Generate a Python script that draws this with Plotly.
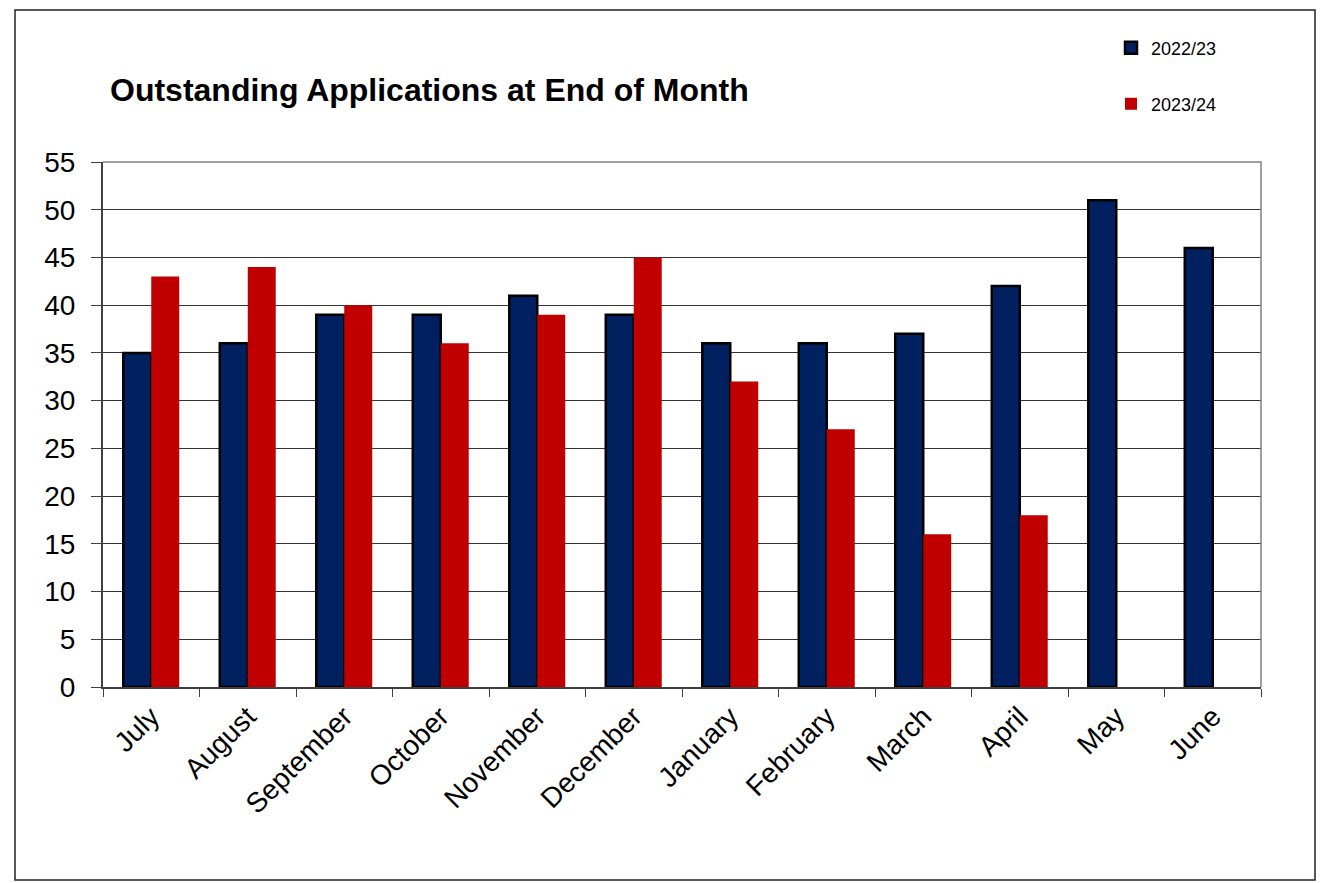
import plotly.graph_objects as go

months = ["July", "August", "September", "October", "November", "December",
          "January", "February", "March", "April", "May", "June"]
fy_2022_23 = [35, 36, 39, 39, 41, 39, 36, 36, 37, 42, 51, 46]
fy_2023_24 = [43, 44, 40, 36, 39, 45, 32, 27, 16, 18, None, None]
series_names = ["2022/23", "2023/24"]
title_text = "Outstanding Applications at End of Month"

FONT = "Arial, Liberation Sans, sans-serif"
OFF = 8  # page body margin in the browser
W, H = 1326 - OFF, 883 - OFF
L, R, T, B = 103 - OFF, 1261 - OFF, 162 - OFF, 687 - OFF
pw, ph = R - L, B - T

def px_x(x):
    return (x - OFF - L) / pw

def px_y(y):
    return (B - (y - OFF)) / ph

fig = go.Figure()
fig.add_trace(go.Bar(
    x=months, y=fy_2022_23, name=series_names[0],
    marker=dict(color="#002060", line=dict(color="black", width=2.5)),
    legend="legend",
))
fig.add_trace(go.Bar(
    x=months, y=fy_2023_24, name=series_names[1],
    marker=dict(color="#C00000", line=dict(width=0)),
    legend="legend2",
))

fig.update_layout(
    width=W, height=H,
    margin=dict(l=L, r=W - R, t=T, b=H - B, autoexpand=False),
    paper_bgcolor="white", plot_bgcolor="white",
    barmode="group", bargap=0.42, bargroupgap=0,
    font=dict(family=FONT, color="black"),
    title=dict(text="<b>" + title_text + "</b>", xref="container", yref="container",
               x=(110 - OFF) / W, xanchor="left", y=1 - (90 - OFF) / H, yanchor="middle",
               font=dict(size=32, family=FONT, color="black")),
    legend=dict(x=px_x(1111), y=px_y(48), xanchor="left", yanchor="middle",
                font=dict(size=18, family=FONT), bgcolor="rgba(0,0,0,0)"),
    legend2=dict(x=px_x(1111), y=px_y(104), xanchor="left", yanchor="middle",
                 font=dict(size=18, family=FONT), bgcolor="rgba(0,0,0,0)"),
    showlegend=True,
)

fig.update_yaxes(
    range=[0, 55], dtick=5, tick0=0,
    showgrid=True, gridcolor="#333333", gridwidth=1,
    showline=True, linecolor="#404040", linewidth=2,
    ticks="outside", ticklen=10, tickcolor="#404040", tickwidth=1,
    tickfont=dict(size=28, family=FONT, color="black"),
    ticklabelstandoff=10,
    zeroline=False, fixedrange=True,
)
fig.update_xaxes(
    showgrid=False,
    showline=True, linecolor="#404040", linewidth=2,
    ticks="outside", ticklen=8, tickcolor="#404040", tickwidth=1,
    tickson="boundaries",
    tickangle=-45,
    tickfont=dict(size=28, family=FONT, color="black"),
    fixedrange=True,
)

# top and right edges of plot area (grey)
fig.add_shape(type="path", xref="paper", yref="paper",
              path="M 0,1 L 1,1 L 1,0", line=dict(color="#808080", width=1.5),
              layer="above")
# outer chart border
fig.add_shape(type="rect", xref="paper", yref="paper",
              x0=px_x(15), x1=px_x(1315), y0=px_y(880), y1=px_y(10),
              line=dict(color="#222222", width=1.5), layer="above")

fig.write_html("out.html")
